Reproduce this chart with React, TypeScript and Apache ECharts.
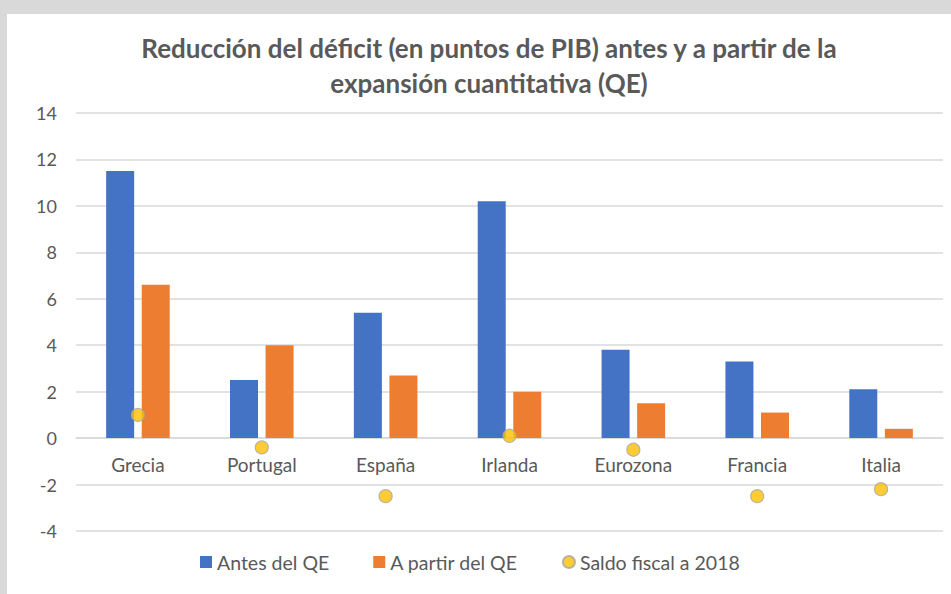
import React, { useEffect, useRef } from "react";
import * as echarts from "echarts";

const categories = ["Grecia", "Portugal", "España", "Irlanda", "Eurozona", "Francia", "Italia"];
const antesQE = [11.5, 2.5, 5.4, 10.2, 3.8, 3.3, 2.1];
const aPartirQE = [6.6, 4.0, 2.7, 2.0, 1.5, 1.1, 0.4];
const saldoFiscal = [1.0, -0.4, -2.5, 0.1, -0.5, -2.5, -2.2];
const seriesNames = ["Antes del QE", "A partir del QE", "Saldo fiscal a 2018"];
const titleText = "Reducción del déficit (en puntos de PIB) antes y a partir de la\nexpansión cuantitativa (QE)";

const FONT = "Lato, 'Open Sans', sans-serif";
const GRAY = "#595959";

export default function App() {
  const ref = useRef<HTMLDivElement>(null);
  useEffect(() => {
    if (!ref.current) return;
    const chart = echarts.init(ref.current, null, { renderer: "svg" });
    chart.setOption({
      animation: false,
      backgroundColor: "#ffffff",
      title: {
        text: titleText,
        left: 482,
        top: 16,
        padding: 0,
        textAlign: "center",
        textStyle: {
          fontFamily: FONT,
          fontSize: 26,
          fontWeight: "bold",
          color: GRAY,
          lineHeight: 35,
        },
      },
      grid: { left: 69, right: 8, top: 99, bottom: 63, containLabel: false },
      legend: {
        left: 188,
        top: 533,
        itemWidth: 12,
        itemHeight: 12,
        itemGap: 44,
        data: [
          { name: seriesNames[0], icon: "rect" },
          { name: seriesNames[1], icon: "rect" },
          { name: seriesNames[2], icon: "circle" },
        ],
        textStyle: { fontFamily: FONT, fontSize: 19.5, color: GRAY },
      },
      xAxis: {
        type: "category",
        data: categories,
        offset: -93,
        axisLine: { onZero: false, lineStyle: { color: "#d9d9d9", width: 1.5 } },
        axisTick: { show: false },
        axisLabel: { fontFamily: FONT, fontSize: 19, color: GRAY, margin: 17 },
      },
      yAxis: {
        type: "value",
        min: -4,
        max: 14,
        interval: 2,
        axisLine: { show: false },
        axisTick: { show: false },
        axisLabel: { fontFamily: FONT, fontSize: 18, color: GRAY, margin: 19 },
        splitLine: { lineStyle: { color: "#d9d9d9", width: 1.5 } },
      },
      series: [
        {
          name: seriesNames[0],
          type: "bar",
          data: antesQE,
          barWidth: 28,
          barGap: "27%",
          itemStyle: { color: "#4472C4" },
        },
        {
          name: seriesNames[1],
          type: "bar",
          data: aPartirQE,
          barWidth: 28,
          barGap: "27%",
          itemStyle: { color: "#ED7D31" },
        },
        {
          name: seriesNames[2],
          type: "scatter",
          data: saldoFiscal,
          symbolSize: 13,
          itemStyle: { color: "#FFC000", borderColor: "#a6a6a6", borderWidth: 1.2 },
          z: 5,
        },
      ],
    });
    return () => chart.dispose();
  }, []);
  return (
    <div style={{ position: "fixed", left: 0, top: 0, width: 951, height: 594, background: "#d9d9d9" }}>
      <div
        ref={ref}
        style={{ position: "absolute", left: 7, top: 14, width: 944, height: 580, background: "#ffffff" }}
      />
    </div>
  );
}
